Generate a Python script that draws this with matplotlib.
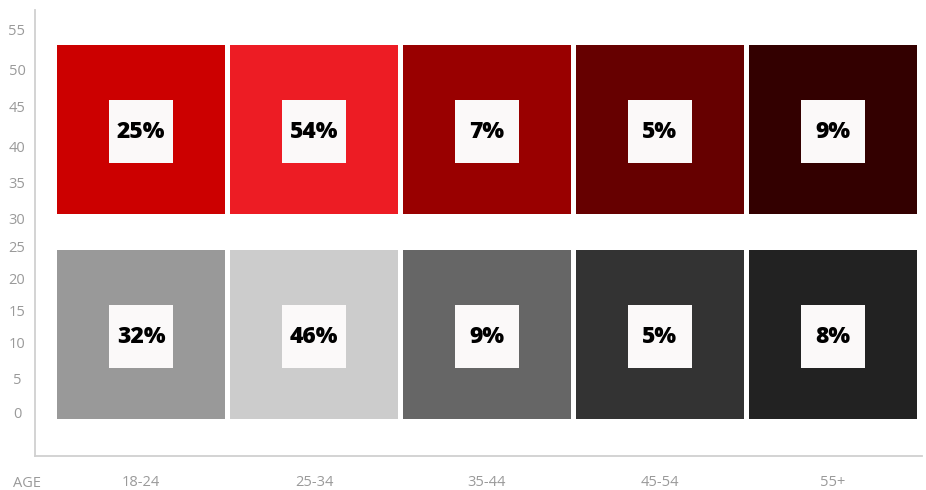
import matplotlib.pyplot as plt
from matplotlib.patches import Rectangle

# Share of each age group, two series
age_groups = ["18-24", "25-34", "35-44", "45-54", "55+"]
top_share = [25, 54, 7, 5, 9]
bottom_share = [32, 46, 9, 5, 8]
top_colors = ["#cc0000", "#ed1c24", "#990000", "#660000", "#330000"]
bottom_colors = ["#999999", "#cccccc", "#666666", "#333333", "#222222"]
y_tick_labels = [0, 5, 10, 15, 20, 25, 30, 35, 40, 45, 50, 55]

# Layout (y measured upward from the baseline, x in column units)
Y_TICK_POS = [44, 77, 113, 146, 178, 210, 238, 274, 310, 350, 386, 426]
ROW_BOTTOM = {"top": 242, "bottom": 37}
ROW_HEIGHT = 168.5
CELL_W = 0.974
BOX_W, BOX_H = 0.37, 63
GRID = "#d0d0d0"
TEXT = "#9a9a9a"

plt.rcParams["font.family"] = ["Open Sans", "DejaVu Sans"]

fig = plt.figure(figsize=(9.26, 4.9), dpi=100)
ax = fig.add_axes([35 / 926, 34 / 490, 887 / 926, 446 / 490])

x = list(range(len(age_groups)))
centers = [i + 0.5 for i in x]

for row, shares, colors in [("top", top_share, top_colors),
                            ("bottom", bottom_share, bottom_colors)]:
    ax.bar(centers, ROW_HEIGHT, bottom=ROW_BOTTOM[row], width=CELL_W,
           color=colors, linewidth=0)
    yc = ROW_BOTTOM[row] + ROW_HEIGHT / 2 - 2
    for xc, v in zip(centers, shares):
        ax.add_patch(Rectangle((xc - BOX_W / 2, yc - BOX_H / 2), BOX_W, BOX_H,
                               facecolor="#fbf9f9", edgecolor="none", zorder=3))
        ax.text(xc, yc, f"{v}%", ha="center", va="center", fontsize=16.5,
                fontweight=800, color="black", zorder=4)

ax.set_xlim(-0.114, 5.016)
ax.set_ylim(0, 446)

ax.set_yticks(Y_TICK_POS)
ax.set_yticklabels(y_tick_labels)
ax.set_xticks(centers)
ax.set_xticklabels(age_groups)
ax.tick_params(axis="y", length=0, pad=13, labelsize=10.5, labelcolor=TEXT)
ax.tick_params(axis="x", length=0, pad=14, labelsize=10.5, labelcolor=TEXT)
for lbl in ax.get_yticklabels():
    lbl.set_horizontalalignment("center")
fig.text(27 / 926, 1 - 483 / 490, "AGE", ha="center", va="center",
         fontsize=10.5, color=TEXT)

for side in ["top", "right"]:
    ax.spines[side].set_visible(False)
for side in ["left", "bottom"]:
    ax.spines[side].set_color(GRID)
    ax.spines[side].set_linewidth(1.3)

fig.savefig("out.png", dpi=100)
